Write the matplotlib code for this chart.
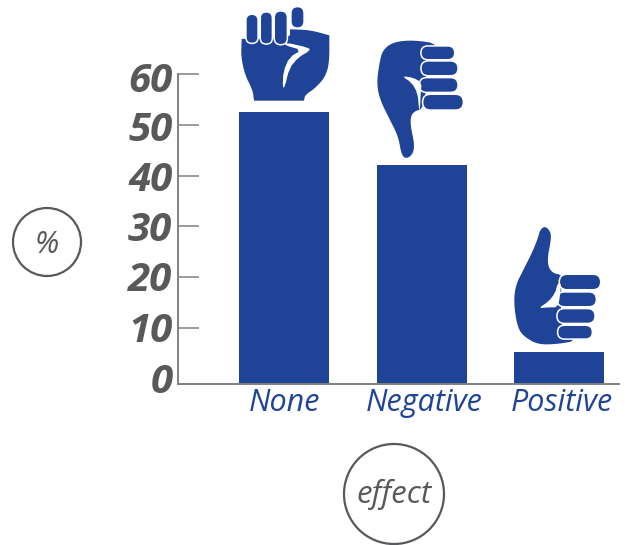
# -*- coding: utf-8 -*-
"""Bar chart of effect (none / negative / positive) with hand icons above the bars."""

import numpy as np
import matplotlib.pyplot as plt
from matplotlib.patches import Circle, FancyBboxPatch, Polygon
from matplotlib.transforms import ScaledTranslation

categories = ['None', 'Negative', 'Positive']
values = [52.6, 42.1, 5.3]
y_ticks = [0, 10, 20, 30, 40, 50, 60]

BLUE = '#1f4497'
GREY = '#58595b'
AXIS_GREY = '#808080'
W, H = 625, 545
Y_MIN = -0.984  # the axis line sits a little under the zero mark in the original


def smooth(points, rounds=2):
    """Chaikin corner cutting, gives the hand outlines their soft edges."""
    pts = np.array(points, dtype=float)
    for _ in range(rounds):
        nxt = np.roll(pts, -1, axis=0)
        pts = np.column_stack([0.75 * pts + 0.25 * nxt, 0.25 * pts + 0.75 * nxt]).reshape(-1, 2)
    return pts


def from_zoom(points, x0, y0):
    return [(x0 + x / 3, y0 + y / 3) for x, y in points]


def draw_finger(over, x0, y0, x1, y1, box):
    """Rounded finger with a white rim, box gives the crop offset."""
    grow = 0.75  # half the rim eats into the finger
    xa, ya = box[0] + x0 / 3 - grow, box[1] + y0 / 3 - grow
    w, h = (x1 - x0) / 3 + 2 * grow, (y1 - y0) / 3 + 2 * grow
    r = min(w, h) / 2
    over.add_patch(FancyBboxPatch((xa + r, ya + r), w - 2 * r, h - 2 * r,
                                  boxstyle='round,pad=%f,rounding_size=%f' % (r, r),
                                  fc=BLUE, ec='white', lw=1.1, zorder=4))


def draw_hand(over, body, sliver, fingers, box):
    over.add_patch(Polygon(smooth(from_zoom(body, *box)), closed=True, fc=BLUE, ec='none', zorder=3))
    for f in fingers:
        draw_finger(over, *f, box)
    over.add_patch(Polygon(smooth(from_zoom(sliver, *box), 1), closed=True, fc='white', ec='none', zorder=5))


def nudge(label, dx, dy):
    # shift a tick label by some pixels, the labels in the original sit off their ticks
    label.set_transform(label.get_transform() + ScaledTranslation(dx / 100, dy / 100, fig.dpi_scale_trans))


fig = plt.figure(figsize=(W / 100, H / 100), dpi=100)
plt.rcParams['font.family'] = ['Open Sans', 'DejaVu Sans']

ax = fig.add_axes([178 / W, 1 - 384 / H, (619 - 178) / W, (384 - 74) / H])
x_pos = np.arange(len(categories))
ax.bar(x_pos, np.array(values) - Y_MIN, bottom=Y_MIN, width=0.655, color=BLUE)
ax.set_xlim(-0.773, 2.434)
ax.set_ylim(Y_MIN, 60)

for side in ['top', 'right']:
    ax.spines[side].set_visible(False)
for side in ['left', 'bottom']:
    ax.spines[side].set_color(AXIS_GREY)
    ax.spines[side].set_linewidth(1.4)

ax.set_yticks(y_ticks)
ax.set_yticklabels(y_ticks, fontsize=29, fontweight='bold', fontstyle='italic', color=GREY)
ax.tick_params(axis='y', direction='in', length=15, width=1.1, color=AXIS_GREY, pad=4)
ax.yaxis.get_major_ticks()[0].tick1line.set_visible(False)  # no mark at zero
ax.set_xticks(x_pos)
ax.set_xticklabels(categories, fontsize=22, fontstyle='italic', color=BLUE)
ax.tick_params(axis='x', length=0, pad=3)

for label, dy in zip(ax.get_yticklabels(), [1, 1, 1, 0, 0, -1.5, -2.5]):
    nudge(label, 0, dy)
for label, dx in zip(ax.get_xticklabels(), [0.5, 2.5, 2.5]):
    nudge(label, dx, 0)

# overlay in pixel coordinates for the icons and circled labels
over = fig.add_axes([0, 0, 1, 1], facecolor='none')
over.set_xlim(0, W)
over.set_ylim(H, 0)
over.axis('off')

over.add_patch(Circle((47, 242), 34, fc='none', ec=GREY, lw=1.6))
over.text(47, 245, '%', fontsize=22, fontstyle='italic', color=GREY, ha='center', va='center')
over.add_patch(Circle((394, 494), 50, fc='none', ec=GREY, lw=1.6))
over.text(394, 494.5, 'effect', fontsize=22.5, fontstyle='italic', color=GREY, ha='center', va='center')

# fist
fist_body = [(35, 118), (35, 116), (180, 116), (180, 88), (180, 88), (240, 90), (298, 106), (298, 106),
             (298, 190), (285, 232), (255, 265), (225, 285), (222, 302), (222, 302), (72, 302), (72, 302),
             (68, 270), (45, 225), (33, 170)]
fist_sliver = [(165, 127), (236, 143), (240, 152), (205, 172), (178, 205), (164, 262), (158, 262),
               (160, 215), (178, 172), (215, 150), (165, 136)]
fist_fingers = [(50, 45, 82, 128), (93, 38, 125, 130), (135, 35, 170, 132), (185, 22, 220, 82)]
draw_hand(over, fist_body, fist_sliver, fist_fingers, (230, 0))

# thumb down
down_body = [(210, 42), (130, 30), (70, 36), (38, 60), (28, 100), (20, 160), (30, 210), (60, 270), (85, 320),
             (95, 378), (112, 386), (130, 370), (133, 340), (122, 290), (122, 258), (135, 243), (155, 238),
             (168, 200), (168, 100)]
down_sliver = [(95, 138), (130, 143), (155, 158), (152, 190), (150, 238), (147, 238), (143, 190), (125, 158)]
down_fingers = [(155, 50, 252, 87), (155, 95, 262, 135), (150, 145, 262, 185), (160, 195, 278, 238)]
draw_hand(over, down_body, down_sliver, down_fingers, (370, 30))

# thumb up
up_body = [(105, 30), (120, 18), (137, 35), (138, 60), (128, 110), (130, 142), (145, 160), (172, 165), (168, 200),
           (168, 340), (215, 362), (160, 372), (100, 374), (60, 352), (38, 325), (26, 250), (32, 195), (55, 150),
           (85, 90), (100, 50)]
up_sliver = [(100, 265), (130, 245), (150, 220), (158, 190), (168, 190), (165, 230), (158, 262), (130, 262)]
up_fingers = [(165, 165, 285, 207), (158, 218, 272, 258), (158, 268, 268, 308), (160, 318, 260, 355)]
draw_hand(over, up_body, up_sliver, up_fingers, (505, 220))

fig.savefig('out.png', dpi=100)
